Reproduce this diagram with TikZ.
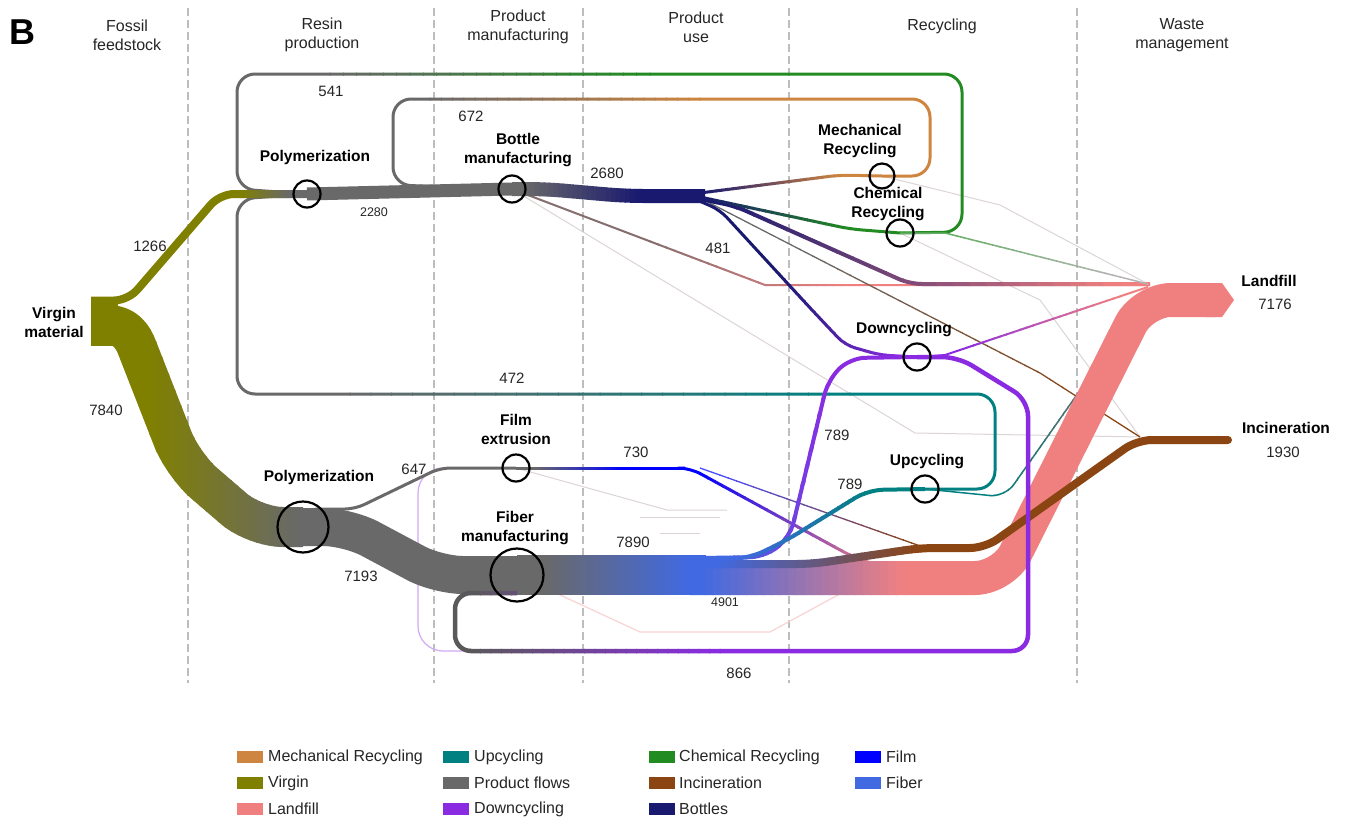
\documentclass[tikz,border=0pt]{standalone}
\usepackage{fontspec}
\setmainfont{Liberation Sans}
\usetikzlibrary{calc}

\definecolor{cOlive}{HTML}{808000}
\definecolor{cGray}{HTML}{696969}
\definecolor{cPink}{HTML}{F08080}
\definecolor{cTeal}{HTML}{008080}
\definecolor{cPurple}{HTML}{8A2BE2}
\definecolor{cGreen}{HTML}{228B22}
\definecolor{cBrown}{HTML}{8B4513}
\definecolor{cNavy}{HTML}{191970}
\definecolor{cTan}{HTML}{CD853F}
\definecolor{cFilm}{HTML}{0000FF}
\definecolor{cFiber}{HTML}{4169E1}
\definecolor{cFaint}{HTML}{DDD5D5}
\definecolor{cDash}{HTML}{BDBDBD}
\colorlet{cLtGreen}{cGreen!70!white}
\colorlet{cLtGray}{cGray!50!white}
\colorlet{cGrayPink}{cGray!80!cPink}
\colorlet{cLtFilm}{cFilm!70!white}
\colorlet{cLtPurple}{cPurple!40!white}
\colorlet{cLtPink}{cPink!35!white}
\colorlet{cDkGray}{cGray!85!black}

% gradient stroke along x: #1 options, #2 left colour, #3 right colour, #4 x start, #5 x end, #6 path
\newcommand{\gline}[6]{%
  \begin{scope}
    \clip (-50,-50) rectangle ({#4+0.5},900);
    \draw[#1,draw=#2] #6;
  \end{scope}
  \begin{scope}
    \clip ({#5-0.5},-50) rectangle (1400,900);
    \draw[#1,draw=#3] #6;
  \end{scope}
  \foreach \k in {1,...,24}{%
    \pgfmathsetmacro{\xlo}{#4+(#5-#4)*(\k-1)/24-0.5}%
    \pgfmathsetmacro{\xhi}{#4+(#5-#4)*\k/24+0.5}%
    \pgfmathtruncatemacro{\pc}{100-(\k-0.5)*100/24}%
    \begin{scope}
      \clip (\xlo,-50) rectangle (\xhi,900);
      \draw[#1,draw=#2!\pc!#3] #6;
    \end{scope}
  }%
}

\begin{document}
\begin{tikzpicture}[x=1pt,y=-1pt,line join=round,
  hub/.style={circle,draw=black,line width=2.2pt,inner sep=0pt,minimum size=27pt},
  bighub/.style={hub,minimum size=51pt},
  lbl/.style={font=\fontsize{15.5}{19}\selectfont\bfseries,align=center,inner sep=0pt,text=black},
  hdr/.style={font=\fontsize{16}{19}\selectfont,align=center,inner sep=0pt,text=black!85},
  num/.style={font=\fontsize{15}{18}\selectfont,inner sep=0pt,text=black!85},
  snum/.style={font=\fontsize{12.5}{15}\selectfont,inner sep=0pt,text=black!85},
  leg/.style={font=\fontsize{16}{19}\selectfont,anchor=west,inner sep=0pt,text=black!85},
  sw/.style={minimum width=26pt,minimum height=12pt,inner sep=0pt,anchor=west},
  dashline/.style={draw=cDash,line width=2pt,dash pattern=on 8pt off 4pt},
  faint/.style={draw=cFaint,line width=1pt}]

\useasboundingbox (0,0) rectangle (1350,830);
\fill[white] (0,0) rectangle (1350,830);

% key positions
\coordinate (P1) at (307,194);
\coordinate (B)  at (512,189);
\coordinate (MR) at (882,176);
\coordinate (CR) at (900,233);
\coordinate (DC) at (917,357);
\coordinate (UC) at (925,489);
\coordinate (FE) at (516,468);
\coordinate (P2) at (303,527);
\coordinate (FM) at (517,575);
\coordinate (LF) at (1234,300);
\coordinate (IN) at (1228,440);
\coordinate (FL) at (685,468);

% stage separators
\foreach \x in {188,434,583,789,1077} \draw[dashline] (\x,8) -- (\x,683);

% headers
\node[hdr] (hFossil) at (127,35) {Fossil\\feedstock};
\node[hdr] (hResin) at (322,35) {Resin\\production};
\node[hdr] (hManu) at (518,27) {Product\\manufacturing};
\node[hdr] (hUse) at (696,27) {Product\\use};
\node[hdr] (hRec) at (942,26) {Recycling};
\node[hdr] (hWaste) at (1182,35) {Waste\\management};
\node[font=\fontsize{36}{36}\selectfont\bfseries,inner sep=0pt] (letterB) at (22,32) {B};

% faint flows
\draw[faint] (B) -- (915,433) -- (1140,437);
\draw[faint] (MR) -- (1000,205) -- (1148,284);
\draw[faint] (CR) -- (1040,300) -- (1140,437);
\draw[faint] (FE) -- (667,510) -- (727,510);
\draw[faint] (640,517) -- (720,517);
\draw[faint] (660,533) -- (700,533);
\draw[draw=cLtPink,line width=1.2pt] (FM) -- (640,632) -- (770,632) -- (880,572);
\draw[draw=cLtPurple,line width=1.2pt,rounded corners=25] (FE) -- (418,468) -- (418,651) -- (1008,651);

% recycling loops back to production
\gline{line width=3pt,rounded corners=18}{cGray}{cGreen}{330}{650}{(CR) -- (962,232) -- (962,74) -- (237,74) -- (237,189) -- (P1)}
\gline{line width=3pt,rounded corners=18}{cGray}{cTan}{430}{700}{(MR) -- (930,176) -- (930,99) -- (393,99) -- (393,185) -- (B)}
\gline{line width=3pt,rounded corners=18}{cGray}{cTeal}{350}{850}{(UC) -- (995,489) -- (995,394) -- (237,394) -- (237,199) -- (P1)}

% bottle flows
\gline{line width=2pt}{cGrayPink}{cPink}{650}{850}{(B) -- (765,285) -- (1150,285)}
\gline{line width=1.3pt}{cGray}{cBrown}{800}{1100}{(700,198) -- (1040,373) -- (1140,437)}
\gline{line width=4pt,rounded corners=12}{cNavy}{cPink}{720}{1120}{(700,199) -- (735,206) -- (910,284) -- (1150,284)}
\gline{line width=3pt,rounded corners=10}{cNavy}{cPurple}{780}{900}{(697,200) -- (720,210) -- (812,310) -- (845,345) -- (880,355) -- (DC)}
\gline{line width=3pt,rounded corners=12}{cNavy}{cGreen}{705}{850}{(700,197) -- (850,229) -- (CR)}
\gline{line width=3pt,rounded corners=12}{cNavy}{cTan}{705}{840}{(700,193) -- (840,175) -- (MR)}

% recycling outputs to waste
\gline{line width=2pt}{cPurple}{cPink}{960}{1120}{(DC) -- (945,355) -- (1148,287)}
\gline{line width=1.5pt}{cLtGreen}{cLtGray}{950}{1120}{(CR) -- (945,233) -- (1148,284)}
\gline{line width=1.5pt,rounded corners=15}{cTeal}{cGray}{990}{1100}{(UC) -- (1005,497) -- (1145,298)}

% film flows
\gline{line width=1.3pt}{cLtFilm}{cBrown}{720}{920}{(700,468) -- (923,547) -- (985,548)}
\gline{line width=3pt,rounded corners=12}{cFilm}{cPink}{700}{880}{(FL) -- (690,468) -- (853,557) -- (880,566)}

% main bands
\gline{line width=40pt}{cOlive}{cGray}{150}{300}{(91,325) -- (108,325) .. controls (125,325) and (133,336) .. (138,350) [rounded corners=28] -- (183,465) -- (255,527) -- (P2)}
\gline{line width=8pt,rounded corners=14}{cOlive}{cGray}{240}{290}{(91,300.5) -- (128,300.5) -- (220,194) -- (P1)}
\draw[line width=13pt,draw=cGray] (P1) -- (B);
\gline{line width=14pt,rounded corners=18}{cGray}{cNavy}{525}{640}{(B) -- (545,189) -- (625,196) -- (705,196)}
\draw[line width=38pt,draw=cGray,rounded corners=25] (P2) -- (348,527) -- (438,575) -- (FM);
\draw[line width=3pt,draw=cGray,rounded corners=10] (315,509) -- (355,509) -- (440,468) -- (FE);
\gline{line width=3pt}{cGray}{cFilm}{535}{625}{(FE) -- (FL)}

% waste bands
\gline{line width=34pt,rounded corners=28}{cFiber}{cPink}{705}{905}{(690,578) -- (1003,578) -- (1143,300) -- (1215,300)}
\fill[cPink] (1205,283) -- (1222,283) -- (LF) -- (1222,317) -- (1205,317) -- cycle;
\gline{line width=8pt,rounded corners=15,line cap=round}{cFiber}{cBrown}{720}{920}{(690,564) -- (812,564) -- (920,548) -- (985,548) -- (1137,440) -- (IN)}

% fiber to recycling
\gline{line width=4pt,rounded corners=15}{cFiber}{cPurple}{730}{830}{(700,558) -- (765,557) -- (790,537) -- (828,380) -- (850,358) -- (DC)}
\gline{line width=4pt,rounded corners=15}{cFiber}{cTeal}{740}{870}{(700,560) -- (750,558) -- (787,540) -- (868,490) -- (UC)}

\gline{line width=40pt}{cGray}{cFiber}{545}{690}{(FM) -- (706,575)}

% downcycling loop back to fiber
\gline{line width=4.5pt,rounded corners=16}{cDkGray}{cPurple}{470}{720}{(DC) -- (958,357) -- (1028,400) -- (1028,651) -- (455,651) -- (455,593) -- (517,593)}

% virgin source
\node[fill=cOlive,minimum width=27pt,minimum height=49pt,inner sep=0pt] (virgin) at (104.5,321.5) {};

% process nodes
\node[hub] (poly1) at (P1) {};
\node[hub] (bottle) at (B) {};
\node[hub,minimum size=25pt] (mech) at (MR) {};
\node[hub] (chem) at (CR) {};
\node[hub] (down) at (DC) {};
\node[hub] (up) at (UC) {};
\node[hub] (film) at (FE) {};
\node[bighub] (poly2) at (P2) {};
\node[bighub,minimum size=53pt] (fiber) at (FM) {};

% node labels
\node[lbl] (tVirgin) at (54,322) {Virgin\\material};
\node[lbl] (tPoly1) at (315,157) {Polymerization};
\node[lbl] (tBottle) at (518,150) {Bottle\\manufacturing};
\node[lbl] (tMech) at (860,141) {Mechanical\\Recycling};
\node[lbl] (tChem) at (888,204) {Chemical\\Recycling};
\node[lbl] (tDown) at (904,330) {Downcycling};
\node[lbl] (tUp) at (927,462) {Upcycling};
\node[lbl] (tFilm) at (516,429) {Film\\extrusion};
\node[lbl] (tPoly2) at (319,477) {Polymerization};
\node[lbl] (tFiber) at (515,528) {Fiber\\manufacturing};
\node[lbl] (tLand) at (1269,281) {Landfill};
\node[num] (vLand) at (1275,304) {7176};
\node[lbl] (tInc) at (1286,428) {Incineration};
\node[num] (vInc) at (1283,452) {1930};

% flow values
\node[num] (v541) at (331,91) {541};
\node[num] (v672) at (471,116) {672};
\node[num] (v2680) at (607,173) {2680};
\node[snum] (v2280) at (374,212) {2280};
\node[num] (v1266) at (150,246) {1266};
\node[num] (v481) at (718,248) {481};
\node[num] (v7840) at (106,410) {7840};
\node[num] (v472) at (512,378) {472};
\node[num] (v647) at (414,469) {647};
\node[num] (v730) at (636,452) {730};
\node[num] (v7193) at (361,576) {7193};
\node[num] (v7890) at (633,542) {7890};
\node[num] (v789a) at (837,435) {789};
\node[num] (v789b) at (850,484) {789};
\node[snum] (v4901) at (725,602) {4901};
\node[num] (v866) at (739,673) {866};

% legend
\node[sw,fill=cTan] (s1) at (237,757) {}; \node[leg] (l1) at (268,757) {Mechanical Recycling};
\node[sw,fill=cOlive] (s2) at (237,783) {}; \node[leg] (l2) at (268,783) {Virgin};
\node[sw,fill=cPink] (s3) at (237,809) {}; \node[leg] (l3) at (268,809) {Landfill};
\node[sw,fill=cTeal] (s4) at (443,757) {}; \node[leg] (l4) at (474,757) {Upcycling};
\node[sw,fill=cGray] (s5) at (443,783) {}; \node[leg] (l5) at (474,783) {Product flows};
\node[sw,fill=cPurple] (s6) at (443,809) {}; \node[leg] (l6) at (474,809) {Downcycling};
\node[sw,fill=cGreen] (s7) at (649,757) {}; \node[leg] (l7) at (679,757) {Chemical Recycling};
\node[sw,fill=cBrown] (s8) at (649,783) {}; \node[leg] (l8) at (679,783) {Incineration};
\node[sw,fill=cNavy] (s9) at (649,809) {}; \node[leg] (l9) at (679,809) {Bottles};
\node[sw,fill=cFilm] (s10) at (855,757) {}; \node[leg] (l10) at (886,757) {Film};
\node[sw,fill=cFiber] (s11) at (855,783) {}; \node[leg] (l11) at (886,783) {Fiber};
\end{tikzpicture}
\end{document}
